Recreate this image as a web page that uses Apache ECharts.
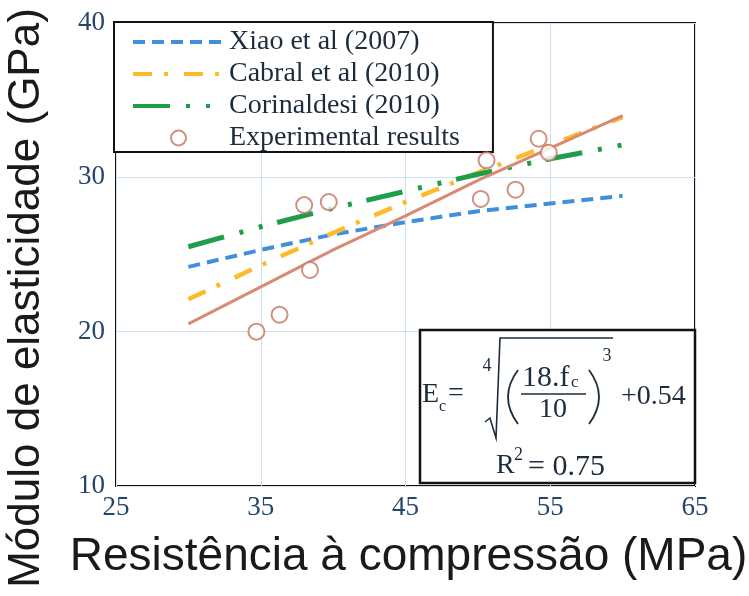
<!DOCTYPE html>
<html>
<head>
<meta charset="utf-8">
<script src="https://cdn.jsdelivr.net/npm/echarts@6/dist/echarts.min.js"></script>
<style>
  html, body { margin: 0; padding: 0; background: #ffffff; }
  #chart { width: 749px; height: 596px; }
</style>
</head>
<body>
<div id="chart"></div>
<script>
// Compressive strength (MPa) at which the model curves are evaluated
const fcCurve = [30, 35, 40, 45, 50, 55, 60];

// Elastic modulus predicted by each model (GPa)
const xiaoValues = [24.2, 25.3, 26.3, 27.1, 27.8, 28.3, 28.8];
const cabralValues = [22.1, 24.3, 26.4, 28.4, 30.3, 32.1, 33.9];
const corinaldesiValues = [25.5, 26.8, 28.0, 29.1, 30.2, 31.2, 32.1];
const fitValues = [20.5, 22.9, 25.3, 27.5, 29.8, 31.9, 34.0];

// Experimental results
const expStrength = [34.7, 36.3, 38.0, 38.4, 39.7, 50.2, 50.6, 52.6, 54.2, 54.9];
const expModulus = [20.0, 21.1, 28.2, 24.0, 28.4, 28.6, 31.1, 29.2, 32.5, 31.6];

// Axis ticks
const xTicks = [25, 35, 45, 55, 65];
const yTicks = [10, 20, 30, 40];

const seriesNames = ['Xiao et al (2007)', 'Cabral et al (2010)', 'Corinaldesi (2010)', 'Experimental results'];

function pairs(xs, ys) {
  return xs.map((x, i) => [x, ys[i]]);
}

const serif = '"Liberation Serif", "Times New Roman", serif';
const sans = '"Liberation Sans", Arial, sans-serif';
const ink = '#1d2c3c';
const tickInk = '#24466b';

const chart = echarts.init(document.getElementById('chart'), null, { renderer: 'canvas' });

function txt(text, x, y, size, align) {
  return {
    type: 'text',
    z: 101,
    style: {
      text: text,
      x: x,
      y: y,
      font: size + 'px ' + serif,
      fill: ink,
      align: align || 'left',
      textAlign: align || 'left',
      verticalAlign: 'middle',
      textVerticalAlign: 'middle'
    }
  };
}

function paren(xEnd, xMid, yTop, yBottom) {
  return {
    type: 'bezierCurve',
    z: 101,
    shape: {
      x1: xEnd, y1: yTop,
      x2: xEnd, y2: yBottom,
      cpx1: 2 * xMid - xEnd, cpy1: (yTop + yBottom) / 2
    },
    style: { stroke: ink, lineWidth: 1.8, fill: null }
  };
}

// Line-only legend entries (no marker in the middle of the stroke)
const lineOnlyItem = { color: 'rgba(0,0,0,0)', borderColor: 'rgba(0,0,0,0)', borderWidth: 0, opacity: 0 };

const option = {
  backgroundColor: '#ffffff',
  animation: false,
  grid: {
    left: 116, top: 23, right: 54, bottom: 110,
    outerBoundsMode: 'none',
    containLabel: false,
    show: true,
    borderColor: '#111111',
    borderWidth: 2,
    backgroundColor: 'transparent'
  },
  legend: {
    data: [
      { name: seriesNames[0], itemStyle: lineOnlyItem },
      { name: seriesNames[1], itemStyle: lineOnlyItem },
      { name: seriesNames[2], itemStyle: lineOnlyItem },
      { name: seriesNames[3] }
    ],
    orient: 'vertical',
    left: 114,
    top: 22,
    padding: [6, 33, 0, 17],
    itemGap: 4,
    itemWidth: 91,
    itemHeight: 15,
    borderColor: '#111111',
    borderWidth: 2,
    backgroundColor: '#ffffff',
    lineStyle: { width: 4 },
    textStyle: { fontFamily: serif, fontSize: 28, color: ink, lineHeight: 23 }
  },
  xAxis: {
    type: 'value',
    min: xTicks[0],
    max: xTicks[xTicks.length - 1],
    interval: xTicks[1] - xTicks[0],
    name: 'Resistência à compressão (MPa)',
    nameLocation: 'middle',
    nameGap: 48,
    nameTextStyle: { fontFamily: sans, fontSize: 46, color: '#1a1a1a', padding: [0, 0, 0, 6] },
    axisLine: { show: false },
    axisTick: { show: false },
    axisLabel: { fontFamily: serif, fontSize: 27, color: tickInk, margin: 8 },
    splitLine: { show: true, lineStyle: { color: '#cfe1f1', width: 1 } }
  },
  yAxis: {
    type: 'value',
    min: yTicks[0],
    max: yTicks[yTicks.length - 1],
    interval: yTicks[1] - yTicks[0],
    axisLine: { show: false },
    axisTick: { show: false },
    axisLabel: { fontFamily: serif, fontSize: 27, color: tickInk, margin: 11 },
    splitLine: { show: true, lineStyle: { color: '#cfe1f1', width: 1 } }
  },
  series: [
    {
      name: seriesNames[0],
      type: 'line',
      data: pairs(fcCurve, xiaoValues),
      symbol: 'none',
      color: '#3f8fdc',
      lineStyle: { color: '#3f8fdc', width: 4, type: [12, 7] },
      z: 2
    },
    {
      name: seriesNames[1],
      type: 'line',
      data: pairs(fcCurve, cabralValues),
      symbol: 'none',
      color: '#fdbb2c',
      lineStyle: { color: '#fdbb2c', width: 4.5, type: [19, 12, 4, 16] },
      z: 2
    },
    {
      name: seriesNames[2],
      type: 'line',
      data: pairs(fcCurve, corinaldesiValues),
      symbol: 'none',
      color: '#1f9e4a',
      lineStyle: { color: '#1f9e4a', width: 5, type: [37, 16, 4, 16, 4, 15] },
      z: 2
    },
    {
      name: 'Ajuste',
      type: 'line',
      data: pairs(fcCurve, fitValues),
      symbol: 'none',
      color: '#d98a72',
      lineStyle: { color: '#d98a72', width: 3 },
      z: 3
    },
    {
      name: seriesNames[3],
      type: 'scatter',
      data: pairs(expStrength, expModulus),
      symbol: 'emptyCircle',
      symbolSize: 16,
      color: '#c47563',
      itemStyle: { color: '#c47563', borderColor: '#c47563', borderWidth: 3.5 },
      z: 4
    }
  ],
  graphic: [
    {
      type: 'text',
      z: 100,
      rotation: Math.PI / 2,
      x: 27,
      y: 298,
      style: {
        text: 'Módulo de elasticidade (GPa)',
        font: '44px ' + sans,
        fill: '#1a1a1a',
        align: 'center',
        textAlign: 'center',
        verticalAlign: 'middle',
        textVerticalAlign: 'middle'
      }
    },
    // Equation box
    {
      type: 'rect',
      z: 100,
      shape: { x: 420, y: 330, width: 275, height: 153 },
      style: { fill: '#ffffff', stroke: '#111111', lineWidth: 2.5 }
    },
    txt('E', 422, 395, 28),
    txt('c', 439, 407, 16),
    txt('=', 448, 394, 28),
    txt('4', 487, 366, 18, 'center'),
    {
      type: 'polyline',
      z: 101,
      shape: { points: [[485, 422], [490, 418], [496, 438], [500, 338], [613, 338]] },
      style: { stroke: ink, lineWidth: 1.6, fill: null }
    },
    paren(518, 508, 370, 424),
    txt('18.f', 522, 378, 30),
    txt('c', 571, 383, 17),
    {
      type: 'line',
      z: 101,
      shape: { x1: 521, y1: 394, x2: 586, y2: 394 },
      style: { stroke: ink, lineWidth: 1.6 }
    },
    txt('10', 553, 410, 28, 'center'),
    paren(589, 599, 370, 424),
    txt('3', 607, 356, 18, 'center'),
    txt('+0.54', 621, 397, 28),
    txt('R', 496, 466, 28),
    txt('2', 514, 455, 18),
    txt('= 0.75', 528, 467, 30)
  ]
};

chart.setOption(option);
</script>
</body>
</html>
